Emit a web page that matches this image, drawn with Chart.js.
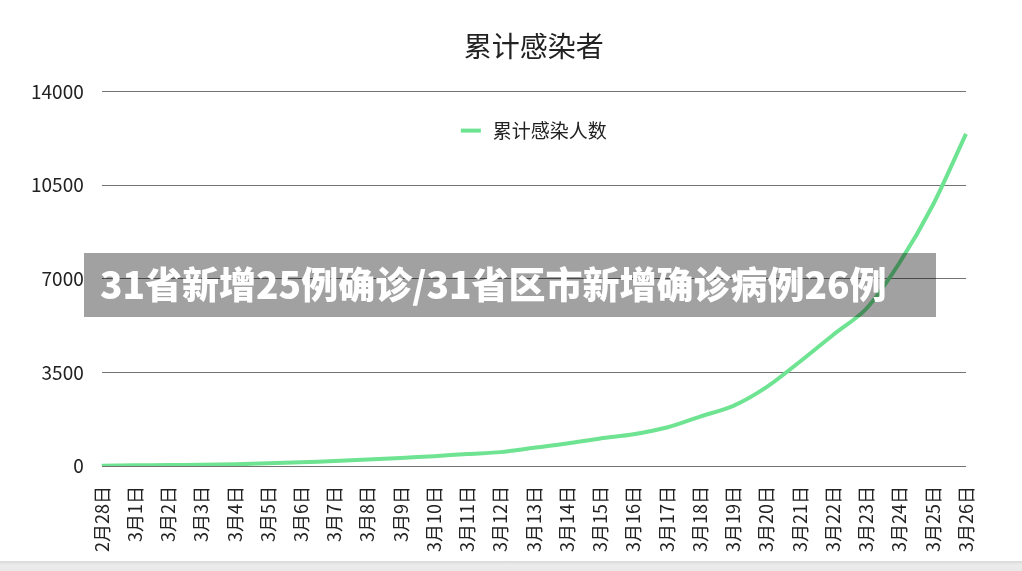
<!doctype html>
<html lang="zh-CN">
  <head>
    <meta charset="utf-8">
    <title>累计感染者</title>
    <style>
      * {
        margin: 0;
        padding: 0;
      }
      body {
        width: 1022px;
        height: 571px;
        background: #fff;
        overflow: hidden;
        position: relative;
        font-family: "Noto Sans CJK SC", sans-serif;
      }
      .chartBox {
        position: absolute;
        left: 0;
        top: 0;
        width: 1022px;
        height: 571px;
      }
      .banner {
        position: absolute;
        left: 84px;
        top: 253px;
        width: 852px;
        height: 64px;
        background: rgba(0, 0, 0, 0.37);
        color: #fff;
        font-size: 37px;
        font-weight: 900;
        line-height: 60px;
        padding-left: 16px;
        box-sizing: border-box;
        white-space: nowrap;
      }
      .bottomBar {
        position: absolute;
        left: 0;
        top: 561px;
        width: 1022px;
        height: 10px;
        background: linear-gradient(#d9d9d9, #ececec 40%, #e9e9e9);
      }
    </style>
  </head>
  <body>
    <div class="chartBox">
      <canvas id="myChart"></canvas>
    </div>
    <div class="banner">31省新增25例确诊/31省区市新增确诊病例26例</div>
    <div class="bottomBar"></div>

    <script src="https://cdn.jsdelivr.net/npm/chart.js"></script>
    <script>
    // setup
    const dates = ['2月28日', '3月1日', '3月2日', '3月3日', '3月4日', '3月5日', '3月6日',
      '3月7日', '3月8日', '3月9日', '3月10日', '3月11日', '3月12日', '3月13日',
      '3月14日', '3月15日', '3月16日', '3月17日', '3月18日', '3月19日', '3月20日',
      '3月21日', '3月22日', '3月23日', '3月24日', '3月25日', '3月26日'];
    const infected = [15, 25, 35, 50, 65, 100, 140, 190, 240, 300, 370, 450, 520, 680,
      840, 1030, 1190, 1440, 1850, 2250, 2950, 3900, 4900, 5880, 7600, 9750, 12420];
    const yTicks = [0, 3500, 7000, 10500, 14000];

    const green = 'rgb(110, 227, 145)';

    // legend drawn inside the plot area, under the top gridline;
    // title centred over the plot area rather than the whole canvas
    const areaLegend = {
      id: 'areaLegend',
      afterLayout(chart) {
        if (chart.titleBlock) {
          chart.titleBlock.left = chart.chartArea.left;
          chart.titleBlock.right = chart.chartArea.right;
        }
      },
      afterDatasetsDraw(chart) {
        const ds = chart.data.datasets[0];
        const ctx = chart.ctx;
        const cx = (chart.chartArea.left + chart.chartArea.right) / 2;
        const y = chart.chartArea.top + 39;
        ctx.save();
        ctx.font = '19px "Noto Sans CJK SC"';
        const w = ctx.measureText(ds.label).width;
        const lineW = 20, gap = 12;
        const x0 = cx - (lineW + gap + w) / 2;
        ctx.strokeStyle = ds.borderColor;
        ctx.lineWidth = 4;
        ctx.beginPath();
        ctx.moveTo(x0, y);
        ctx.lineTo(x0 + lineW, y);
        ctx.stroke();
        ctx.fillStyle = '#222';
        ctx.textBaseline = 'middle';
        ctx.fillText(ds.label, x0 + lineW + gap, y);
        ctx.restore();
      }
    };

    const data = {
      labels: dates,
      datasets: [{
        label: '累计感染人数',
        data: infected,
        borderColor: green,
        backgroundColor: green,
        borderWidth: 4,
        pointRadius: 0,
        tension: 0.3
      }]
    };

    // config
    const config = {
      type: 'line',
      data,
      options: {
        responsive: true,
        maintainAspectRatio: false,
        animation: false,
        layout: {
          padding: { left: 13, right: 56, bottom: 7 }
        },
        plugins: {
          legend: { display: false },
          tooltip: { enabled: false },
          title: {
            display: true,
            text: '累计感染者',
            color: '#222',
            font: { family: '"Noto Sans CJK SC"', size: 28, weight: 'normal' },
            padding: { top: 30, bottom: 28 }
          }
        },
        scales: {
          x: {
            grid: { display: false },
            border: { display: false },
            ticks: {
              color: '#222',
              font: { family: '"Noto Sans CJK SC"', size: 18 },
              minRotation: 90,
              maxRotation: 90,
              autoSkip: false,
              padding: 12
            }
          },
          y: {
            min: 0,
            max: 14000,
            afterBuildTicks(axis) {
              axis.ticks = yTicks.map(v => ({ value: v }));
            },
            grid: { color: '#737373', lineWidth: 1, drawTicks: false },
            border: { display: false },
            ticks: {
              color: '#222',
              font: { family: '"Noto Sans CJK SC"', size: 19 },
              padding: 18,
              callback: v => String(v)
            }
          }
        }
      },
      plugins: [areaLegend]
    };

    // render init block
    const myChart = new Chart(
      document.getElementById('myChart'),
      config
    );
    </script>
  </body>
</html>
